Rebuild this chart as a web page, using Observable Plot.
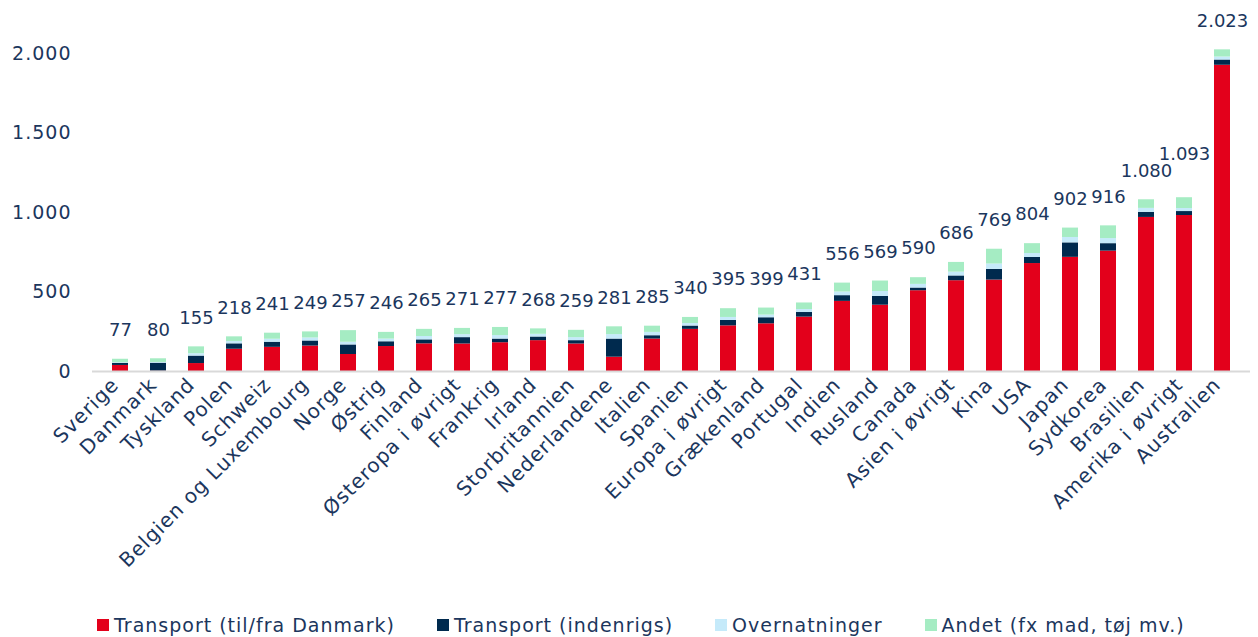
<!DOCTYPE html>
<html>
<head>
<meta charset="utf-8">
<script src="https://cdn.jsdelivr.net/npm/d3@7"></script>
<script src="https://cdn.jsdelivr.net/npm/@observablehq/plot@0.6"></script>
<style>
  body { margin: 0; background: #fff; font-family: "DejaVu Sans", sans-serif; }
  #chart { width: 1258px; }
  .legend { display: flex; gap: 42px; padding-left: 97px; padding-top: 4px; height: 32px; align-items: center; color: #1b365d; font-size: 19px; letter-spacing: 1px; }
  .legend .item { display: flex; align-items: center; }
  .legend .sw { width: 12px; height: 12px; margin-right: 5px; display: inline-block; }
  svg text { letter-spacing: 1px; }
  svg g[aria-label="text"] text { letter-spacing: 0; }
</style>
</head>
<body>
<div id="chart"></div>
<script>
const categories = ["Sverige","Danmark","Tyskland","Polen","Schweiz","Belgien og Luxembourg","Norge","Østrig","Finland","Østeropa i øvrigt","Frankrig","Irland","Storbritannien","Nederlandene","Italien","Spanien","Europa i øvrigt","Grækenland","Portugal","Indien","Rusland","Canada","Asien i øvrigt","Kina","USA","Japan","Sydkorea","Brasilien","Amerika i øvrigt","Australien"];
const transportDK = [38,2,50,140,152,160,107,157,174,173,181,194,173,90,204,265,287,300,342,441,417,508,571,575,679,718,757,969,981,1926];
const transportIndenrigs = [13,50,47,34,32,32,60,30,25,40,23,23,21,114,21,21,34,38,29,36,55,17,30,67,38,91,47,32,25,33];
const overnatninger = [4,5,15,15,19,19,17,17,21,19,22,17,19,28,21,16,19,17,19,23,31,23,24,34,25,34,32,25,19,19];
const andet = [22,23,43,29,38,38,73,42,45,39,51,34,46,49,39,38,55,44,41,56,66,42,61,93,62,59,80,54,68,45];
const totals = [77,80,155,218,241,249,257,246,265,271,277,268,259,281,285,340,395,399,431,556,569,590,686,769,804,902,916,1080,1093,2023];
const seriesNames = ["Transport (til/fra Danmark)","Transport (indenrigs)","Overnatninger","Andet (fx mad, tøj mv.)"];
const seriesColors = ["#e3001b","#002a4e","#c5eafa","#a5ecc3"];
const yTicks = [0,500,1000,1500,2000];

const seriesValues = [transportDK, transportIndenrigs, overnatninger, andet];
const rows = [];
seriesNames.forEach((s, si) => categories.forEach((c, ci) => rows.push({cat: c, series: s, value: seriesValues[si][ci]})));
const totalRows = categories.map((c, i) => ({cat: c, total: totals[i]}));

const loc = d3.formatLocale({decimal: ",", thousands: ".", grouping: [3], currency: ["", " kr."]});
const fmt = loc.format(",d");
const textColor = "#1b365d";
const raised = new Set(["Amerika i øvrigt"]);

const chart = Plot.plot({
  width: 1258,
  height: 605,
  marginLeft: 92,
  marginRight: 8,
  marginTop: 53,
  marginBottom: 234,
  style: {fontFamily: "DejaVu Sans, sans-serif", fontSize: "19px", color: textColor, background: "#fff"},
  x: {domain: categories, paddingInner: 0.59, paddingOuter: 0.27, label: null},
  y: {domain: [0, 2000], label: null},
  color: {domain: seriesNames, range: seriesColors},
  marks: [
    Plot.axisY({ticks: yTicks, tickFormat: fmt, tickSize: 0, tickPadding: 21, fontSize: 19, fill: textColor}),
    Plot.axisX({tickSize: 0, tickRotate: -45, tickPadding: 10, dx: -5, fontSize: 20, fill: textColor}),
    Plot.barY(rows, {x: "cat", y: "value", fill: "series", order: seriesNames}),
    Plot.ruleY([0], {stroke: "#d9d9d9", strokeWidth: 2}),
    Plot.text(totalRows.filter(d => !raised.has(d.cat)), {x: "cat", y: "total", text: d => fmt(d.total), dy: -29, fontSize: 18, fill: textColor}),
    Plot.text(totalRows.filter(d => raised.has(d.cat)), {x: "cat", y: "total", text: d => fmt(d.total), dy: -43, fontSize: 18, fill: textColor})
  ]
});
document.getElementById("chart").appendChild(chart);

const legend = document.createElement("div");
legend.className = "legend";
seriesNames.forEach((s, i) => {
  const it = document.createElement("div");
  it.className = "item";
  const sw = document.createElement("span");
  sw.className = "sw";
  sw.style.background = seriesColors[i];
  it.appendChild(sw);
  it.appendChild(document.createTextNode(s));
  legend.appendChild(it);
});
document.getElementById("chart").appendChild(legend);
</script>
</body>
</html>
